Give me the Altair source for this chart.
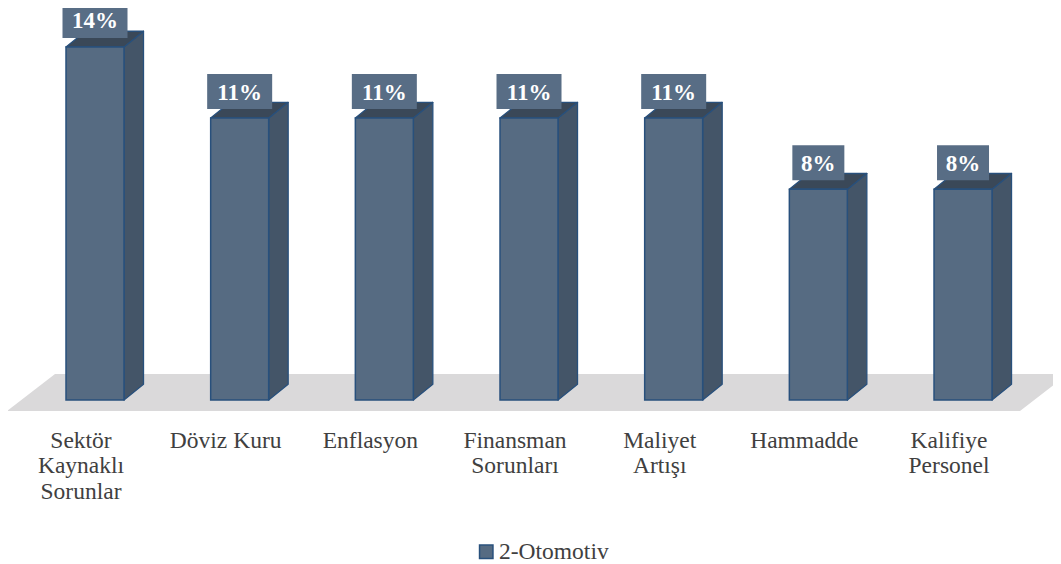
import altair as alt
import pandas as pd

# ---- data ----
categories = ["Sektör\nKaynaklı\nSorunlar", "Döviz Kuru", "Enflasyon",
              "Finansman\nSorunları", "Maliyet\nArtışı", "Hammadde",
              "Kalifiye\nPersonel"]
values = [13.9, 11.1, 11.1, 11.1, 11.1, 8.3, 8.3]
series_name = "2-Otomotiv"

# ---- geometry / style parameters ----
W, H = 1045, 556
PX = 25.4           # pixels per percentage point
BASE = 392          # chart-pixel of the zero line
STEP = 144.67       # category spacing (px)
LEFT0 = 58          # left edge of first bar front (px)
BW = 58             # bar front width (px)
DX = 19.5           # depth offset x (px)
DY = 15.7 / PX      # depth offset y (in % units)
FONT = "Liberation Serif"

FRONT = "#566B82"
SIDE = "#445568"
TOP = "#3A4858"
BORDER = "#28507C"
FLOOR = "#DAD9DA"
BOX = "#586D85"
TEXT = "#404040"

def pct(px_from_top):
    return (BASE - px_from_top) / PX

ymin, ymax = pct(H), pct(0)

front_rows, side_rows, top_rows, box_rows, lab_rows = [], [], [], [], []
for i, (c, v) in enumerate(zip(categories, values)):
    x0 = LEFT0 + STEP * i
    x1 = x0 + BW
    front_rows.append(dict(cat=c, x=x0, x2=x1, y=0.0, y2=v, series=series_name))
    side_rows += [
        dict(id=i, x=x1, y=0.0, y2=v),
        dict(id=i, x=x1 + DX, y=DY, y2=v + DY),
    ]
    top_rows += [
        dict(id=i, x=x0, y=v, y2=v),
        dict(id=i, x=x0 + DX, y=v, y2=v + DY),
        dict(id=i, x=x1, y=v, y2=v + DY),
        dict(id=i, x=x1 + DX, y=v + DY, y2=v + DY),
    ]
    label = f"{round(v)}%"
    bw = 13 * len(label) + 26
    cx = (x0 + x1) / 2
    yb = v + 9 / PX
    box_rows.append(dict(x=cx - bw / 2, x2=cx + bw / 2, y=yb, y2=yb + 35 / PX,
                         cx=cx, cy=yb + 17.5 / PX, label=label))
    lab_rows.append(dict(x=cx - 14, y=pct(439.7), text=c))

floor_df = pd.DataFrame([
    dict(x=-1, y=pct(403), y2=pct(403)),
    dict(x=47, y=pct(403), y2=pct(366)),
    dict(x=1012, y=pct(403), y2=pct(366)),
    dict(x=1060, y=pct(366), y2=pct(366)),
])

xs = alt.Scale(domain=[0, W], nice=False, zero=False)
ys = alt.Scale(domain=[ymin, ymax], nice=False, zero=False)

floor = alt.Chart(floor_df).mark_area(color=FLOOR, clip=True).encode(
    x=alt.X("x:Q", scale=xs, axis=None),
    y=alt.Y("y:Q", scale=ys, axis=None, stack=None),
    y2="y2:Q",
)

side = alt.Chart(pd.DataFrame(side_rows)).mark_area(
    color=SIDE, stroke=BORDER, strokeWidth=1.3, strokeJoin="round").encode(
    x=alt.X("x:Q", scale=xs, axis=None),
    y=alt.Y("y:Q", scale=ys, axis=None, stack=None),
    y2="y2:Q",
    detail="id:N",
)

top = alt.Chart(pd.DataFrame(top_rows)).mark_area(
    color=TOP, stroke=BORDER, strokeWidth=1.3, strokeJoin="round").encode(
    x=alt.X("x:Q", scale=xs, axis=None),
    y=alt.Y("y:Q", scale=ys, axis=None, stack=None),
    y2="y2:Q",
    detail="id:N",
)

front = alt.Chart(pd.DataFrame(front_rows)).mark_rect(
    stroke=BORDER, strokeWidth=1.5).encode(
    x=alt.X("x:Q", scale=xs, axis=None),
    x2="x2:Q",
    y=alt.Y("y:Q", scale=ys, axis=None),
    y2="y2:Q",
    color=alt.Color("series:N", scale=alt.Scale(range=[FRONT]),
                    legend=alt.Legend(
                        title=None, orient="none", legendX=466.5, legendY=532,
                        padding=0, symbolType="square", symbolSize=180,
                        symbolStrokeColor=BORDER, symbolStrokeWidth=1.5,
                        symbolFillColor=FRONT, symbolOpacity=1,
                        labelFont=FONT, labelFontSize=23.5, labelColor=TEXT,
                        labelOffset=1)),
)

bdf = pd.DataFrame(box_rows)
boxes = alt.Chart(bdf).mark_rect(color=BOX).encode(
    x=alt.X("x:Q", scale=xs, axis=None),
    x2="x2:Q",
    y=alt.Y("y:Q", scale=ys, axis=None),
    y2="y2:Q",
)
box_text = alt.Chart(bdf).mark_text(
    font=FONT, fontSize=23, fontWeight="bold", color="white",
    baseline="middle", align="center", dy=1).encode(
    x=alt.X("cx:Q", scale=xs, axis=None),
    y=alt.Y("cy:Q", scale=ys, axis=None),
    text="label:N",
)

cat_text = alt.Chart(pd.DataFrame(lab_rows)).mark_text(
    font=FONT, fontSize=23.5, color=TEXT, align="center",
    baseline="alphabetic", lineBreak="\n", lineHeight=25.7).encode(
    x=alt.X("x:Q", scale=xs, axis=None),
    y=alt.Y("y:Q", scale=ys, axis=None),
    text="text:N",
)

chart = alt.layer(floor, side, top, front, boxes, box_text, cat_text).properties(
    width=W, height=H,
    autosize=alt.AutoSizeParams(type="none"),
    padding=0,
).configure(font=FONT).configure_view(stroke=None)

chart.save("out.html", embed_options={"renderer": "svg", "actions": False})
